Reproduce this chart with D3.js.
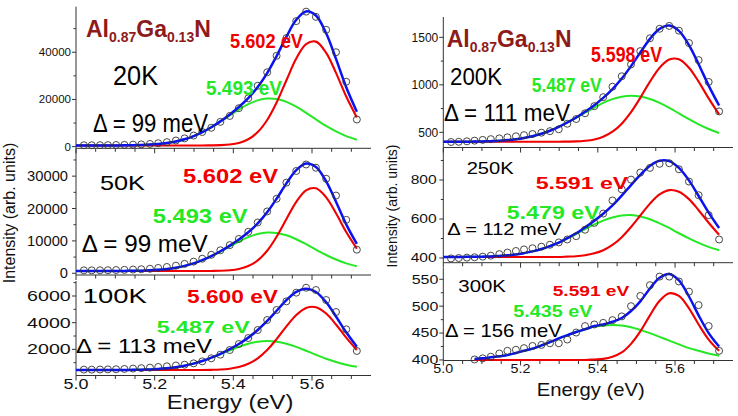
<!DOCTYPE html>
<html><head><meta charset="utf-8">
<script src="https://cdn.jsdelivr.net/npm/d3@7"></script>
<style>
body{margin:0;background:#fff}
svg{display:block}
text{font-family:Arial,"Liberation Sans",sans-serif}
</style></head>
<body><svg id="c" width="738" height="416"></svg>
<script>
// ---------- DATA ----------
const energy = [5.000,5.020,5.040,5.061,5.081,5.102,5.123,5.145,5.166,5.188,5.209,5.231,5.254,5.276,5.299,5.321,5.344,5.367,5.391,5.414,5.438,5.462,5.486,5.510,5.535,5.560,5.585,5.610,5.636,5.661,5.687,5.714];
const dataEnergy = energy.slice(1);
const dataEnergy300 = energy.slice(4);

const red20   = [500,500,500,500,500,500,500,500,500,500,500,500,500,500,500,500,540,634,916,1585,3127,6157,11280,18720,28150,37330,43470,44500,39740,31240,21230,12370];
const green20 = [500,501,503,507,514,529,556,611,704,868,1125,1552,2221,3145,4466,6100,8180,10570,13240,15730,17980,19600,20360,20150,18950,16920,14340,11560,8780,6440,4466,2952];
const fit20   = [500,501,503,507,514,529,556,611,704,868,1125,1552,2221,3145,4466,6100,8220,10704,13656,16815,20607,25257,31140,38370,46600,53750,57310,55560,48020,37180,25196,14822];
const data20  = [600,600,620,650,700,760,850,950,1150,1450,1900,2600,3500,4700,6200,8000,10500,13000,16300,20500,25800,31500,38500,46000,53200,57200,55000,49500,40000,27500,11500];

const red50   = [700,700,700,700,700,700,700,700,700,700,700,700,700,700,700,700,723,777,942,1330,2224,3982,6953,11270,16740,22060,25630,26230,23460,18530,12730,7590];
const green50 = [700,701,702,704,708,717,733,767,821,920,1074,1330,1729,2282,3072,4049,5293,6721,8316,9807,11150,12120,12580,12450,11730,10518,8979,7316,5653,4250,3072,2166];
const fit50   = [700,701,702,704,708,717,733,767,821,920,1074,1330,1729,2282,3072,4049,5316,6798,8558,10437,12674,15402,18833,23020,27770,31878,33909,32846,28413,22080,15102,9056];
const data50  = [900,900,920,950,1000,1050,1150,1250,1400,1650,1950,2350,2900,3600,4500,5700,7100,8700,10600,12800,15700,19100,23000,28000,31600,33600,32600,29200,24000,16500,7300];

const red100   = [450,450,450,450,450,450,450,450,450,450,450,450,450,450,450,450,464,489,549,672,916,1331,1954,2769,3718,4573,5105,5158,4685,3867,2881,1954];
const green100 = [450,450,450,451,452,454,458,465,477,499,531,584,666,777,933,1123,1361,1628,1920,2183,2414,2568,2625,2576,2422,2183,1895,1592,1296,1050,847,693];
const fit100   = [450,450,450,451,452,454,458,465,477,499,531,584,666,777,933,1123,1375,1667,2019,2405,2880,3449,4129,4895,5690,6306,6550,6300,5531,4467,3278,2197];
const data100  = [480,480,490,500,510,530,560,590,630,680,730,790,850,950,1100,1330,1600,1950,2400,2850,3450,4200,4950,5600,6250,6620,6450,5700,4800,3500,1880];

const red200   = [400,400,400,400,400,400,400,400,400,400,400,400,400,400,401,402,404,411,425,453,506,591,712,863,1033,1180,1267,1269,1180,1033,857,689];
const green200 = [400,400,401,401,402,404,407,411,418,428,441,459,485,516,557,601,652,706,761,809,849,875,885,877,851,809,757,699,638,584,535,493];
const fit200   = [400,400,401,401,402,404,407,411,418,428,441,459,485,516,558,603,656,717,786,862,955,1066,1197,1340,1484,1589,1624,1568,1418,1217,992,782];
const data200  = [398,400,405,412,420,428,436,447,458,470,482,496,512,532,590,640,700,775,870,980,1090,1215,1355,1490,1590,1620,1570,1440,1260,1030,720];

const red250   = [405,405,405,405,405,405,405,405,405,405,405,405,405,405,405,407,409,414,424,440,467,507,559,618,679,726,748,740,702,645,581,519];
const green250 = [405,405,405,406,406,407,408,411,414,418,425,434,446,461,479,500,523,548,572,592,608,618,620,613,599,578,554,527,501,478,457,440];
const fit250   = [405,405,405,406,406,407,408,411,414,418,425,434,446,461,479,502,527,557,591,627,670,720,774,826,873,899,897,862,798,718,633,554];
const data250  = [398,400,402,404,407,412,420,428,436,444,450,458,468,480,495,512,545,580,628,695,752,802,838,862,883,886,855,792,722,620,495];

const red300   = [400,400,400,400,400,400,400,400,400,400,400,400,400,400,401,402,406,414,430,453,483,510,524,519,496,466,438,417];
const green300 = [402,403,405,407,409,413,417,421,427,433,440,446,452,457,462,464,465,464,461,456,450,443,436,429,422,417,412,408];
const fit300   = [402,403,405,407,409,413,417,421,427,433,440,446,452,457,463,466,471,478,491,509,533,553,560,548,518,483,450,425];
const data300  = [401,403,406,412,417,419,422,426,428,431,431,438,451,463,466,469,474,481,500,519,539,555,555,546,527,502,463,417];

const tempLabels  = ['20K','50K','100K','200K','250K','300K'];
const redLabels   = ['5.602 eV','5.602 eV','5.600 eV','5.598 eV','5.591 eV','5.591 eV'];
const greenLabels = ['5.493 eV','5.493 eV','5.487 eV','5.487 eV','5.479 eV','5.435 eV'];
const deltaLabels = ['\u0394 = 99 meV','\u0394 = 99 meV','\u0394 = 113 meV','\u0394 = 111 meV','\u0394 = 112 meV','\u0394 = 156 meV'];

const yTicks  = [[0,20000,40000],[0,10000,20000,30000],[2000,4000,6000],[500,1000,1500],[400,600,800],[400,450,500,550]];
const yMinor  = [[10000,30000,50000],[5000,15000,25000,35000],[1000,3000,5000,7000],[750,1250],[500,700,900],[425,475,525]];
const xTicks  = [5.0,5.2,5.4,5.6];
const xMinor  = [5.05,5.1,5.15,5.25,5.3,5.35,5.45,5.5,5.55,5.65,5.7];
const xDomain = [5.0,5.75];

// ---------- LAYOUT ----------
const panels = [
 {x0:76,x1:371,yb:148.3,yt:6.7,dom:[-700,59300],tf:11,tsx:1.05,tg:5,
  temp:[113,85,28,45],red:[230,48.3,21,73],green:[206,95,21,76],delta:[93,131.7,25,115],al:[86,37.3],
  e:energy,de:dataEnergy,r:red20,g:green20,f:fit20,d:data20},
 {x0:76,x1:371,yb:275,yt:148.3,dom:[-530,38600],tf:14,tsx:1.05,tg:8,
  temp:[100,190,21,45],red:[183,183.3,21,95],green:[152.7,222.7,21,95],delta:[81.7,251.7,23,126],
  e:energy,de:dataEnergy,r:red50,g:green50,f:fit50,d:data50},
 {x0:76,x1:371,yb:375.5,yt:281,dom:[40,7125],tf:14,tsx:1.4,tg:5.3,
  temp:[82.7,303.3,21,64],red:[187,303.3,18,91],green:[156.7,333.3,17,93],delta:[76,353.3,21,136],
  e:energy,de:dataEnergy,r:red100,g:green100,f:fit100,d:data100,
  xl:{y:388.5,fs:14,sx:1.28},title:{x:230,y:408.5,fs:20,w:126.7}},
 {x0:443.3,x1:733,yb:147.5,yt:17,dom:[340,1714],tf:12,tsx:1,tg:5,
  temp:[450,85,23,52],red:[591,62.3,22,71],green:[531.7,91.7,21,70],delta:[444,120.7,24,126],al:[446.7,46.7],
  e:energy,de:dataEnergy,r:red200,g:green200,f:fit200,d:data200},
 {x0:443.3,x1:733,yb:262.7,yt:148,dom:[376,964],tf:12,tsx:1.3,tg:6.6,
  temp:[466.7,174.3,16,47],red:[535.7,189,17,92.6],green:[506.7,219.3,19,93],delta:[447.3,235,16,114],
  e:energy,de:dataEnergy,r:red250,g:green250,f:fit250,d:data250},
 {x0:443.3,x1:733,yb:360.5,yt:268,dom:[399,571],tf:12,tsx:1.33,tg:5,
  temp:[458.3,291.7,16,47.7],red:[552.7,296,15.5,76.6],green:[513.3,317.3,16,79],delta:[445,336.7,18.5,116.7],
  e:dataEnergy300,de:dataEnergy300,r:red300,g:green300,f:fit300,d:data300,
  xl:{y:373,fs:13,sx:1.1},title:{x:590.8,y:395.5,fs:19,w:108}}
];

const COL = {red:'#f00000', green:'#25e825', blue:'#0b12f2', axis:'#333', alText:'#8e1b1b'};
const svg = d3.select('#c');

function stretch(sel, factor){
  sel.each(function(){
    const w = this.getComputedTextLength();
    d3.select(this).attr('textLength', w*factor).attr('lengthAdjust','spacingAndGlyphs');
  });
}
function label(g, str, spec, color, bold){
  g.append('text').attr('x',spec[0]).attr('y',spec[1])
    .attr('font-size',spec[2]).attr('font-weight',bold?'bold':'normal')
    .attr('fill',color).attr('textLength',spec[3]).attr('lengthAdjust','spacingAndGlyphs')
    .text(str);
}
function tick(g,x1,x2,y1,y2){
  g.append('line').attr('x1',x1).attr('x2',x2).attr('y1',y1).attr('y2',y2)
    .attr('stroke',COL.axis).attr('stroke-width',1);
}

panels.forEach((p,i)=>{
  const g = svg.append('g');
  const x = d3.scaleLinear().domain(xDomain).range([p.x0,p.x1]);
  const y = d3.scaleLinear().domain(p.dom).range([p.yb,p.yt]);

  // axes lines
  tick(g,p.x0,p.x0,p.yt,p.yb);
  tick(g,p.x0,p.x1,p.yb,p.yb);
  xTicks.forEach(t=>tick(g,x(t),x(t),p.yb,p.yb+5));
  xMinor.forEach(t=>tick(g,x(t),x(t),p.yb,p.yb+3.5));
  yTicks[i].forEach(t=>tick(g,p.x0-4,p.x0,y(t),y(t)));
  yMinor[i].filter(t=>t<=p.dom[1]).forEach(t=>tick(g,p.x0-2.5,p.x0,y(t),y(t)));

  const yl = g.selectAll('text.yt').data(yTicks[i]).enter().append('text').attr('class','yt')
    .attr('x',p.x0-p.tg).attr('y',d=>y(d)).attr('dy','0.36em').attr('text-anchor','end')
    .attr('font-size',p.tf).attr('fill','#111').text(d=>d);
  stretch(yl,p.tsx);

  if(p.xl){
    const xl = g.selectAll('text.xt').data(xTicks).enter().append('text').attr('class','xt')
      .attr('x',d=>x(d)).attr('y',p.xl.y).attr('text-anchor','middle')
      .attr('font-size',p.xl.fs).attr('fill','#111').text(d=>d.toFixed(1));
    stretch(xl,p.xl.sx);
    g.append('text').attr('x',p.title.x).attr('y',p.title.y).attr('text-anchor','middle')
      .attr('font-size',p.title.fs).attr('fill','#111')
      .attr('textLength',p.title.w).attr('lengthAdjust','spacingAndGlyphs').text('Energy (eV)');
  }

  // curves
  const line = (vals)=>d3.line().x((d,k)=>x(p.e[k])).y(d=>y(d)).curve(d3.curveCatmullRom)(vals);
  g.append('path').attr('d',line(p.g)).attr('fill','none').attr('stroke',COL.green).attr('stroke-width',2);
  g.append('path').attr('d',line(p.r)).attr('fill','none').attr('stroke',COL.red).attr('stroke-width',2.1);
  g.append('path').attr('d',line(p.f)).attr('fill','none').attr('stroke',COL.blue).attr('stroke-width',2.5);
  // data circles
  g.selectAll('circle').data(p.d).enter().append('circle')
    .attr('cx',(d,k)=>x(p.de[k])).attr('cy',d=>y(d)).attr('r',3.5)
    .attr('fill','none').attr('stroke','#333').attr('stroke-width',0.9);

  // annotations
  label(g, tempLabels[i], p.temp, '#000', false);
  label(g, deltaLabels[i], p.delta, '#000', false);
  label(g, greenLabels[i], p.green, COL.green, true);
  label(g, redLabels[i], p.red, COL.red, true);
  if(p.al){
    const t = g.append('text').attr('x',p.al[0]).attr('y',p.al[1])
      .attr('font-family','"Times New Roman","Liberation Serif",serif').attr('font-weight','bold')
      .attr('fill',COL.alText).attr('font-size',23);
    t.append('tspan').text('Al');
    t.append('tspan').attr('font-size',14).attr('dy',5).text('0.87');
    t.append('tspan').attr('dy',-5).text('Ga');
    t.append('tspan').attr('font-size',14).attr('dy',5).text('0.13');
    t.append('tspan').attr('dy',-5).text('N');
  }
});

// y-axis titles
svg.append('text').attr('transform','translate(15,213) rotate(-90)').attr('text-anchor','middle')
  .attr('font-size',16).attr('fill','#111').text('Intensity (arb. units)');
svg.append('text').attr('transform','translate(396.7,206) rotate(-90)').attr('text-anchor','middle')
  .attr('font-size',14).attr('fill','#111').text('Intensity (arb. units)');
</script></body></html>
